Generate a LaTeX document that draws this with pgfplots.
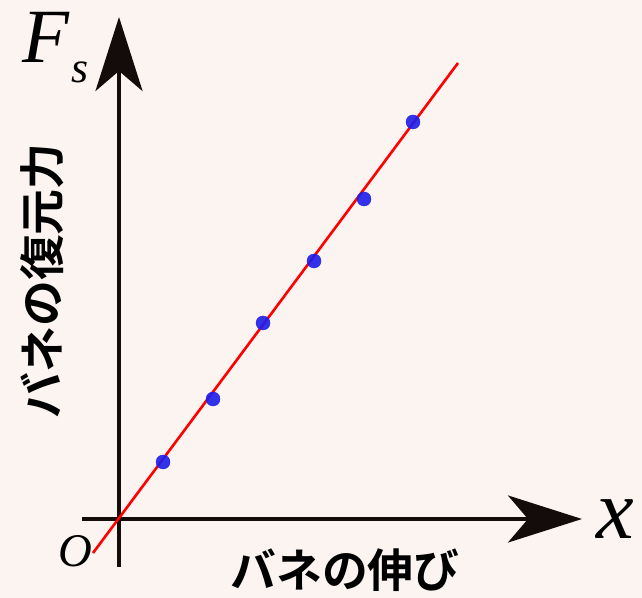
\documentclass[border=0pt]{standalone}
\usepackage{pgfplots}
\pgfplotsset{compat=1.18}
\usepackage{fontspec}
\usetikzlibrary{arrows.meta}
\newfontfamily\jp{Noto Sans CJK JP Bold}
\newfontfamily\tim{Liberation Serif}
\definecolor{bg}{RGB}{252,244,241}
\definecolor{dotblue}{RGB}{30,30,235}
\definecolor{axline}{RGB}{20,12,10}
\begin{document}
\begin{tikzpicture}[x=1bp,y=1bp]
\path[use as bounding box, fill=bg] (0,0) rectangle (642,598);
\begin{axis}[
  at={(82bp,31bp)}, anchor=south west,
  x=1bp, y=1bp,
  xmin=-37, xmax=463, ymin=-48, ymax=502,
  axis lines=middle,
  axis line style={line width=4bp, color=axline, -{Stealth[length=74bp,width=47bp,inset=20bp]}},
  xtick=\empty, ytick=\empty,
  clip=false,
]
\addplot[red, line width=2.6bp, no marks] coordinates {(-26,-34) (339,456)};
\addplot[only marks, mark=*, mark size=7bp, color=dotblue, mark options={draw=none, fill=dotblue, fill opacity=0.9}]
  coordinates {(44,57) (94,120) (144,196) (195,258) (245,320) (294,397)};
\end{axis}
\node[anchor=base west, inner sep=0pt, font=\tim\itshape\fontsize{77}{80}\selectfont] at (22,535) {F};
\node[anchor=base west, inner sep=0pt, font=\tim\itshape\fontsize{44}{48}\selectfont] at (71,515) {s};
\node[anchor=base, inner sep=0pt, font=\tim\itshape\fontsize{85}{88}\selectfont] at (615,59) {x};
\node[anchor=base, inner sep=0pt, font=\tim\itshape\fontsize{47}{50}\selectfont] at (75,31) {O};
\node[inner sep=0pt, font=\jp\fontsize{46}{50}\selectfont] at (345,28) {バネの伸び};
\node[inner sep=0pt, rotate=90, font=\jp\fontsize{46}{50}\selectfont] at (42,317) {バネの復元力};
\end{tikzpicture}
\end{document}
